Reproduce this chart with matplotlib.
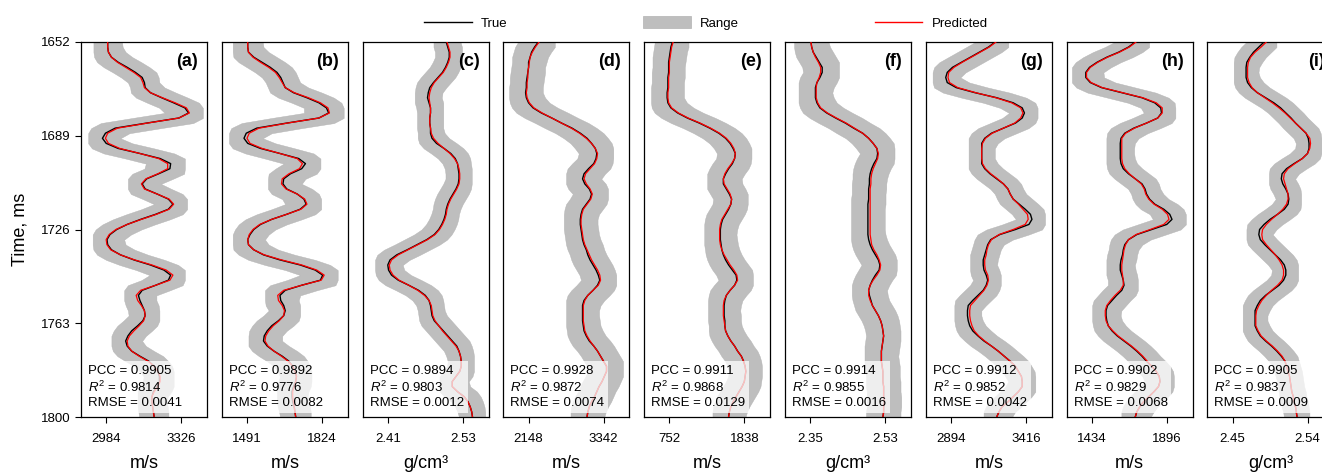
import numpy as np
import matplotlib.pyplot as plt
from matplotlib.lines import Line2D
from matplotlib.patches import Patch

plt.rcParams['font.family'] = ['Liberation Sans', 'DejaVu Sans']
plt.rcParams['mathtext.fontset'] = 'custom'
plt.rcParams['mathtext.rm'] = 'Liberation Sans'
plt.rcParams['mathtext.it'] = 'Liberation Sans:italic'

# two-way time samples (ms)
time_ms = np.arange(1652, 1801, 2)

panel_tags = ['(a)', '(b)', '(c)', '(d)', '(e)', '(f)', '(g)', '(h)', '(i)']
units = ['m/s', 'm/s', 'g/cm³', 'm/s', 'm/s', 'g/cm³', 'm/s', 'm/s', 'g/cm³']
# physical values at normalised 0 and 1
tick_values = [(2984, 3326), (1491, 1824), (2.41, 2.53), (2148, 3342), (752, 1838),
               (2.35, 2.53), (2894, 3416), (1434, 1896), (2.45, 2.54)]
time_ticks = [1652, 1689, 1726, 1763, 1800]

pcc = [0.9905, 0.9892, 0.9894, 0.9928, 0.9911, 0.9914, 0.9912, 0.9902, 0.9905]
r2 = [0.9814, 0.9776, 0.9803, 0.9872, 0.9868, 0.9855, 0.9852, 0.9829, 0.9837]
rmse = [0.0041, 0.0082, 0.0012, 0.0074, 0.0129, 0.0016, 0.0042, 0.0068, 0.0009]

# half width of the prediction range (normalised units)
range_halfwidth = [0.19, 0.20, 0.17, 0.22, 0.215, 0.225, 0.175, 0.185, 0.165]

# normalised logs: true and predicted
true_a = [0.02, 0.02, 0.03, 0.07, 0.16, 0.28, 0.39, 0.48, 0.51, 0.52,
          0.59, 0.74, 0.90, 1.05, 1.10, 0.97, 0.54, 0.12, -0.01, -0.05,
          0.00, 0.16, 0.45, 0.72, 0.86, 0.85, 0.70, 0.54, 0.48, 0.52,
          0.68, 0.83, 0.89, 0.83, 0.66, 0.46, 0.28, 0.14, 0.05, 0.01,
          0.02, 0.07, 0.19, 0.37, 0.59, 0.77, 0.86, 0.83, 0.66, 0.48,
          0.43, 0.45, 0.48, 0.51, 0.52, 0.49, 0.42, 0.34, 0.29, 0.26,
          0.28, 0.34, 0.45, 0.57, 0.64, 0.69, 0.71, 0.71, 0.68, 0.63,
          0.61, 0.61, 0.62, 0.63, 0.64]
pred_a = [0.02, 0.02, 0.03, 0.07, 0.15, 0.26, 0.37, 0.46, 0.49, 0.51,
          0.59, 0.75, 0.92, 1.07, 1.11, 0.97, 0.55, 0.15, 0.02, -0.01,
          0.03, 0.18, 0.45, 0.70, 0.82, 0.82, 0.69, 0.53, 0.47, 0.51,
          0.68, 0.84, 0.90, 0.84, 0.67, 0.47, 0.28, 0.13, 0.04, 0.00,
          0.01, 0.06, 0.19, 0.38, 0.61, 0.80, 0.89, 0.85, 0.66, 0.46,
          0.40, 0.42, 0.47, 0.51, 0.52, 0.50, 0.44, 0.37, 0.31, 0.28,
          0.29, 0.34, 0.44, 0.56, 0.64, 0.69, 0.72, 0.72, 0.69, 0.64,
          0.61, 0.61, 0.62, 0.63, 0.64]

true_b = [0.01, 0.01, 0.02, 0.09, 0.20, 0.31, 0.40, 0.45, 0.48, 0.51,
          0.62, 0.80, 0.96, 1.06, 1.09, 0.96, 0.53, 0.13, -0.01, -0.04,
          0.01, 0.18, 0.44, 0.69, 0.78, 0.73, 0.58, 0.49, 0.48, 0.53,
          0.67, 0.76, 0.79, 0.71, 0.53, 0.33, 0.18, 0.09, 0.04, 0.01,
          0.02, 0.09, 0.22, 0.44, 0.71, 0.91, 1.01, 0.98, 0.73, 0.51,
          0.44, 0.45, 0.49, 0.51, 0.49, 0.42, 0.33, 0.27, 0.23, 0.22,
          0.27, 0.36, 0.47, 0.56, 0.61, 0.64, 0.66, 0.65, 0.62, 0.60,
          0.60, 0.61, 0.63, 0.64, 0.65]
pred_b = [0.01, 0.01, 0.02, 0.08, 0.18, 0.29, 0.38, 0.43, 0.47, 0.51,
          0.63, 0.82, 0.98, 1.08, 1.10, 0.96, 0.54, 0.16, 0.03, 0.00,
          0.04, 0.20, 0.44, 0.67, 0.74, 0.70, 0.56, 0.47, 0.46, 0.52,
          0.67, 0.77, 0.80, 0.72, 0.53, 0.33, 0.17, 0.08, 0.03, 0.01,
          0.02, 0.09, 0.23, 0.46, 0.73, 0.93, 1.03, 0.99, 0.73, 0.49,
          0.41, 0.42, 0.47, 0.50, 0.49, 0.43, 0.35, 0.29, 0.25, 0.24,
          0.28, 0.36, 0.46, 0.55, 0.61, 0.64, 0.66, 0.65, 0.63, 0.61,
          0.61, 0.62, 0.63, 0.64, 0.65]

true_c = [0.78, 0.80, 0.82, 0.82, 0.80, 0.77, 0.73, 0.67, 0.61, 0.56,
          0.54, 0.53, 0.55, 0.57, 0.57, 0.56, 0.56, 0.57, 0.57, 0.59,
          0.65, 0.75, 0.84, 0.90, 0.93, 0.94, 0.95, 0.95, 0.94, 0.91,
          0.87, 0.83, 0.80, 0.78, 0.77, 0.75, 0.72, 0.68, 0.62, 0.52,
          0.39, 0.26, 0.12, 0.03, 0.00, 0.01, 0.05, 0.14, 0.28, 0.41,
          0.50, 0.55, 0.57, 0.58, 0.59, 0.62, 0.68, 0.74, 0.80, 0.86,
          0.92, 0.95, 0.97, 0.98, 0.98, 0.96, 0.91, 0.86, 0.86, 0.93,
          1.02, 1.07, 1.10, 1.12, 1.13]
pred_c = [0.79, 0.81, 0.83, 0.83, 0.81, 0.78, 0.74, 0.68, 0.62, 0.58,
          0.56, 0.55, 0.56, 0.57, 0.57, 0.56, 0.56, 0.57, 0.58, 0.61,
          0.67, 0.75, 0.83, 0.89, 0.93, 0.95, 0.96, 0.96, 0.95, 0.92,
          0.88, 0.84, 0.81, 0.79, 0.78, 0.76, 0.73, 0.69, 0.63, 0.53,
          0.40, 0.27, 0.14, 0.05, 0.02, 0.03, 0.07, 0.15, 0.28, 0.40,
          0.49, 0.55, 0.58, 0.59, 0.60, 0.63, 0.68, 0.73, 0.79, 0.85,
          0.91, 0.95, 0.97, 0.98, 0.98, 0.96, 0.91, 0.86, 0.86, 0.93,
          1.02, 1.07, 1.10, 1.12, 1.13]

true_d = [0.13, 0.08, 0.04, 0.02, 0.00, 0.00, -0.01, -0.02, -0.03, -0.03,
          -0.04, -0.03, 0.00, 0.06, 0.17, 0.31, 0.44, 0.58, 0.69, 0.78,
          0.84, 0.89, 0.91, 0.90, 0.87, 0.80, 0.74, 0.72, 0.75, 0.81,
          0.84, 0.82, 0.77, 0.72, 0.70, 0.69, 0.69, 0.70, 0.71, 0.72,
          0.74, 0.77, 0.79, 0.82, 0.86, 0.90, 0.93, 0.95, 0.92, 0.86,
          0.79, 0.74, 0.72, 0.72, 0.72, 0.72, 0.73, 0.74, 0.77, 0.81,
          0.87, 0.92, 0.96, 1.00, 1.04, 1.04, 1.01, 0.98, 0.94, 0.91,
          0.88, 0.84, 0.81, 0.79, 0.78]
pred_d = [0.14, 0.09, 0.05, 0.02, 0.01, 0.00, -0.01, -0.01, -0.02, -0.02,
          -0.03, -0.02, 0.01, 0.07, 0.18, 0.31, 0.44, 0.57, 0.68, 0.77,
          0.84, 0.89, 0.92, 0.91, 0.88, 0.82, 0.76, 0.74, 0.77, 0.82,
          0.85, 0.83, 0.78, 0.73, 0.71, 0.70, 0.70, 0.71, 0.72, 0.73,
          0.75, 0.78, 0.81, 0.84, 0.88, 0.92, 0.95, 0.96, 0.93, 0.86,
          0.79, 0.75, 0.73, 0.73, 0.73, 0.73, 0.74, 0.75, 0.78, 0.82,
          0.87, 0.92, 0.96, 1.00, 1.04, 1.04, 1.01, 0.98, 0.94, 0.91,
          0.88, 0.84, 0.81, 0.79, 0.78]

true_e = [0.04, 0.02, 0.01, 0.00, -0.01, -0.01, -0.01, -0.02, -0.02, -0.02,
          -0.03, -0.03, -0.02, 0.02, 0.11, 0.24, 0.40, 0.54, 0.66, 0.75,
          0.81, 0.85, 0.88, 0.87, 0.84, 0.79, 0.75, 0.72, 0.72, 0.76,
          0.80, 0.83, 0.82, 0.79, 0.75, 0.71, 0.69, 0.68, 0.68, 0.68,
          0.69, 0.70, 0.72, 0.75, 0.79, 0.84, 0.89, 0.90, 0.87, 0.81,
          0.76, 0.74, 0.73, 0.73, 0.73, 0.74, 0.74, 0.75, 0.78, 0.82,
          0.87, 0.91, 0.96, 0.99, 1.01, 1.02, 1.01, 1.00, 0.97, 0.93,
          0.89, 0.85, 0.82, 0.80, 0.79]
pred_e = [0.05, 0.03, 0.02, 0.01, 0.00, 0.00, 0.00, -0.01, -0.01, -0.01,
          -0.02, -0.02, -0.01, 0.03, 0.12, 0.25, 0.41, 0.55, 0.67, 0.76,
          0.82, 0.86, 0.88, 0.87, 0.83, 0.78, 0.74, 0.72, 0.73, 0.77,
          0.81, 0.83, 0.82, 0.78, 0.74, 0.70, 0.68, 0.67, 0.67, 0.67,
          0.68, 0.70, 0.73, 0.77, 0.81, 0.86, 0.90, 0.91, 0.87, 0.81,
          0.76, 0.73, 0.72, 0.72, 0.72, 0.73, 0.74, 0.75, 0.78, 0.82,
          0.87, 0.91, 0.96, 0.99, 1.01, 1.02, 1.01, 1.00, 0.97, 0.93,
          0.89, 0.85, 0.82, 0.80, 0.79]

true_f = [0.01, 0.02, 0.04, 0.08, 0.12, 0.16, 0.16, 0.13, 0.09, 0.07,
          0.07, 0.07, 0.09, 0.13, 0.22, 0.34, 0.47, 0.58, 0.70, 0.78,
          0.84, 0.89, 0.90, 0.89, 0.85, 0.82, 0.80, 0.79, 0.79, 0.78,
          0.78, 0.78, 0.77, 0.77, 0.77, 0.77, 0.77, 0.77, 0.77, 0.78,
          0.80, 0.83, 0.87, 0.91, 0.93, 0.92, 0.87, 0.83, 0.80, 0.78,
          0.79, 0.81, 0.83, 0.87, 0.91, 0.94, 0.96, 0.97, 0.98, 0.97,
          0.96, 0.95, 0.95, 0.95, 0.96, 0.97, 0.97, 0.97, 0.98, 0.98,
          0.98, 0.99, 0.98, 0.98, 0.97]
pred_f = [0.01, 0.02, 0.04, 0.07, 0.11, 0.14, 0.14, 0.12, 0.09, 0.08,
          0.08, 0.08, 0.10, 0.14, 0.23, 0.35, 0.48, 0.59, 0.70, 0.78,
          0.84, 0.89, 0.91, 0.90, 0.87, 0.84, 0.82, 0.81, 0.81, 0.80,
          0.80, 0.80, 0.80, 0.80, 0.80, 0.80, 0.80, 0.80, 0.80, 0.81,
          0.82, 0.85, 0.89, 0.92, 0.94, 0.93, 0.89, 0.84, 0.80, 0.78,
          0.78, 0.80, 0.83, 0.87, 0.91, 0.94, 0.96, 0.97, 0.98, 0.97,
          0.96, 0.95, 0.95, 0.95, 0.96, 0.97, 0.97, 0.97, 0.98, 0.98,
          0.98, 0.99, 0.98, 0.98, 0.97]

true_g = [0.59, 0.50, 0.38, 0.26, 0.14, 0.02, -0.05, -0.07, -0.05, 0.07,
          0.32, 0.61, 0.83, 0.95, 0.98, 0.95, 0.86, 0.70, 0.54, 0.45,
          0.41, 0.41, 0.41, 0.41, 0.41, 0.45, 0.52, 0.61, 0.70, 0.76,
          0.79, 0.83, 0.91, 0.99, 1.06, 1.08, 1.04, 0.86, 0.65, 0.53,
          0.49, 0.47, 0.45, 0.43, 0.43, 0.44, 0.47, 0.49, 0.47, 0.43,
          0.36, 0.29, 0.23, 0.22, 0.22, 0.23, 0.25, 0.29, 0.36, 0.44,
          0.54, 0.63, 0.71, 0.79, 0.86, 0.90, 0.94, 0.95, 0.95, 0.90,
          0.83, 0.76, 0.68, 0.64, 0.61]
pred_g = [0.60, 0.51, 0.39, 0.27, 0.15, 0.04, -0.03, -0.04, -0.02, 0.09,
          0.33, 0.60, 0.81, 0.93, 0.96, 0.93, 0.85, 0.70, 0.55, 0.46,
          0.42, 0.41, 0.41, 0.41, 0.42, 0.46, 0.53, 0.62, 0.70, 0.76,
          0.79, 0.83, 0.90, 0.96, 1.02, 1.03, 0.99, 0.83, 0.64, 0.54,
          0.50, 0.48, 0.47, 0.45, 0.45, 0.46, 0.49, 0.50, 0.48, 0.44,
          0.38, 0.32, 0.26, 0.25, 0.25, 0.26, 0.28, 0.31, 0.37, 0.45,
          0.54, 0.63, 0.71, 0.79, 0.86, 0.90, 0.94, 0.95, 0.95, 0.90,
          0.83, 0.76, 0.68, 0.64, 0.61]

true_h = [0.58, 0.49, 0.36, 0.20, 0.07, -0.03, -0.08, -0.08, -0.02, 0.13,
          0.40, 0.67, 0.84, 0.92, 0.93, 0.88, 0.73, 0.56, 0.44, 0.39,
          0.38, 0.38, 0.38, 0.38, 0.39, 0.42, 0.49, 0.58, 0.67, 0.71,
          0.73, 0.77, 0.84, 0.96, 1.04, 1.07, 1.00, 0.80, 0.60, 0.49,
          0.44, 0.42, 0.41, 0.39, 0.38, 0.38, 0.40, 0.42, 0.43, 0.40,
          0.33, 0.27, 0.21, 0.19, 0.19, 0.20, 0.22, 0.27, 0.34, 0.43,
          0.52, 0.60, 0.67, 0.73, 0.80, 0.86, 0.90, 0.91, 0.89, 0.83,
          0.76, 0.69, 0.64, 0.60, 0.58]
pred_h = [0.59, 0.50, 0.37, 0.21, 0.08, -0.02, -0.07, -0.07, -0.01, 0.14,
          0.41, 0.68, 0.86, 0.94, 0.94, 0.88, 0.73, 0.57, 0.45, 0.40,
          0.40, 0.40, 0.40, 0.40, 0.41, 0.44, 0.50, 0.58, 0.66, 0.70,
          0.72, 0.76, 0.83, 0.94, 1.01, 1.03, 0.96, 0.78, 0.59, 0.49,
          0.45, 0.43, 0.42, 0.41, 0.40, 0.40, 0.41, 0.42, 0.42, 0.38,
          0.31, 0.25, 0.20, 0.18, 0.18, 0.19, 0.22, 0.28, 0.35, 0.44,
          0.53, 0.61, 0.68, 0.74, 0.80, 0.86, 0.90, 0.91, 0.89, 0.83,
          0.76, 0.69, 0.64, 0.60, 0.58]

true_i = [0.42, 0.35, 0.28, 0.23, 0.19, 0.18, 0.18, 0.18, 0.20, 0.25,
          0.33, 0.44, 0.55, 0.64, 0.71, 0.78, 0.84, 0.91, 0.98, 1.01,
          1.02, 1.02, 1.00, 0.93, 0.82, 0.72, 0.66, 0.65, 0.67, 0.71,
          0.74, 0.75, 0.74, 0.69, 0.60, 0.50, 0.42, 0.36, 0.35, 0.37,
          0.43, 0.50, 0.57, 0.64, 0.69, 0.71, 0.71, 0.68, 0.62, 0.53,
          0.44, 0.37, 0.33, 0.30, 0.30, 0.30, 0.30, 0.33, 0.37, 0.44,
          0.52, 0.59, 0.65, 0.70, 0.72, 0.74, 0.76, 0.77, 0.78, 0.79,
          0.81, 0.82, 0.84, 0.85, 0.86]
pred_i = [0.45, 0.38, 0.30, 0.24, 0.21, 0.20, 0.20, 0.20, 0.22, 0.26,
          0.33, 0.43, 0.53, 0.62, 0.70, 0.77, 0.84, 0.91, 0.98, 1.03,
          1.04, 1.03, 1.00, 0.93, 0.83, 0.74, 0.69, 0.68, 0.70, 0.72,
          0.74, 0.74, 0.72, 0.67, 0.60, 0.52, 0.45, 0.40, 0.39, 0.40,
          0.45, 0.51, 0.57, 0.62, 0.66, 0.68, 0.68, 0.66, 0.60, 0.52,
          0.45, 0.39, 0.35, 0.32, 0.31, 0.31, 0.31, 0.34, 0.38, 0.45,
          0.53, 0.60, 0.66, 0.70, 0.72, 0.74, 0.76, 0.77, 0.78, 0.79,
          0.81, 0.82, 0.84, 0.85, 0.86]

true_logs = [true_a, true_b, true_c, true_d, true_e, true_f, true_g, true_h, true_i]
pred_logs = [pred_a, pred_b, pred_c, pred_d, pred_e, pred_f, pred_g, pred_h, pred_i]


def range_band(values, halfwidth):
    # min/max over neighbouring samples, widened by the spread
    padded = np.pad(np.asarray(values, dtype=float), 1, mode='edge')
    win = np.lib.stride_tricks.sliding_window_view(padded, 3)
    return win.min(axis=1) - halfwidth, win.max(axis=1) + halfwidth


BAND = '#bebebe'
W, H = 1322, 472
fig = plt.figure(figsize=(W / 100, H / 100), dpi=100)

ax_w, ax_h = 126, 375
for i in range(9):
    left = 81 + 140.8 * i
    ax = fig.add_axes([left / W, 1 - (42 + ax_h) / H, ax_w / W, ax_h / H])
    tv = np.asarray(true_logs[i])
    pv = np.asarray(pred_logs[i])
    lo, hi = range_band(tv, range_halfwidth[i])

    ax.fill_betweenx(time_ms, lo, hi, color=BAND, lw=0.3,
                     edgecolor='#b2b2b2', zorder=1)
    ax.plot(tv, time_ms, color='black', lw=1.0, zorder=2)
    ax.plot(pv, time_ms, color='red', lw=0.9, zorder=3)

    ax.set_xlim(-0.336, 1.345)
    ax.set_ylim(1800, 1652)
    ax.set_xticks([0, 1])
    ax.set_xticklabels([f"{v:g}" for v in tick_values[i]])
    ax.tick_params(axis='x', direction='out', length=4.5, width=0.8,
                   labelsize=9.5, pad=7)
    if i == 0:
        ax.set_yticks(time_ticks)
        ax.tick_params(axis='y', direction='out', length=4.5, width=0.8,
                       labelsize=9.5, pad=3)
        ax.set_ylabel('Time, ms', fontsize=13)
        ax.yaxis.set_label_coords(-0.42, 0.5)
    else:
        ax.set_yticks([])
    for sp in ax.spines.values():
        sp.set_linewidth(0.9)

    ax.text(0.5, -0.136, units[i], transform=ax.transAxes, ha='center',
            va='baseline', fontsize=13)
    ax.text(0.93, 0.972, panel_tags[i], transform=ax.transAxes, ha='right',
            va='top', fontsize=13, fontweight='bold', zorder=6)
    stats = f"PCC = {pcc[i]:.4f}\n$R^2$ = {r2[i]:.4f}\nRMSE = {rmse[i]:.4f}"
    ax.text(0.055, 0.02, stats, transform=ax.transAxes, ha='left', va='bottom',
            fontsize=9.5, linespacing=1.25, zorder=5,
            bbox=dict(boxstyle='square,pad=0.3', fc='white', ec='none', alpha=0.75))

handles = [Line2D([], [], color='black', lw=1.0),
           Patch(facecolor=BAND, edgecolor='#b2b2b2', lw=0.5),
           Line2D([], [], color='red', lw=1.0)]
fig.legend(handles, ['True', 'Range', 'Predicted'], loc='center',
           bbox_to_anchor=(0.534, 1 - 23 / H), ncol=3, frameon=False,
           fontsize=9.5, handlelength=3.6, handleheight=1.05,
           handletextpad=0.7, columnspacing=10.3)

fig.savefig('out.png', dpi=100)
